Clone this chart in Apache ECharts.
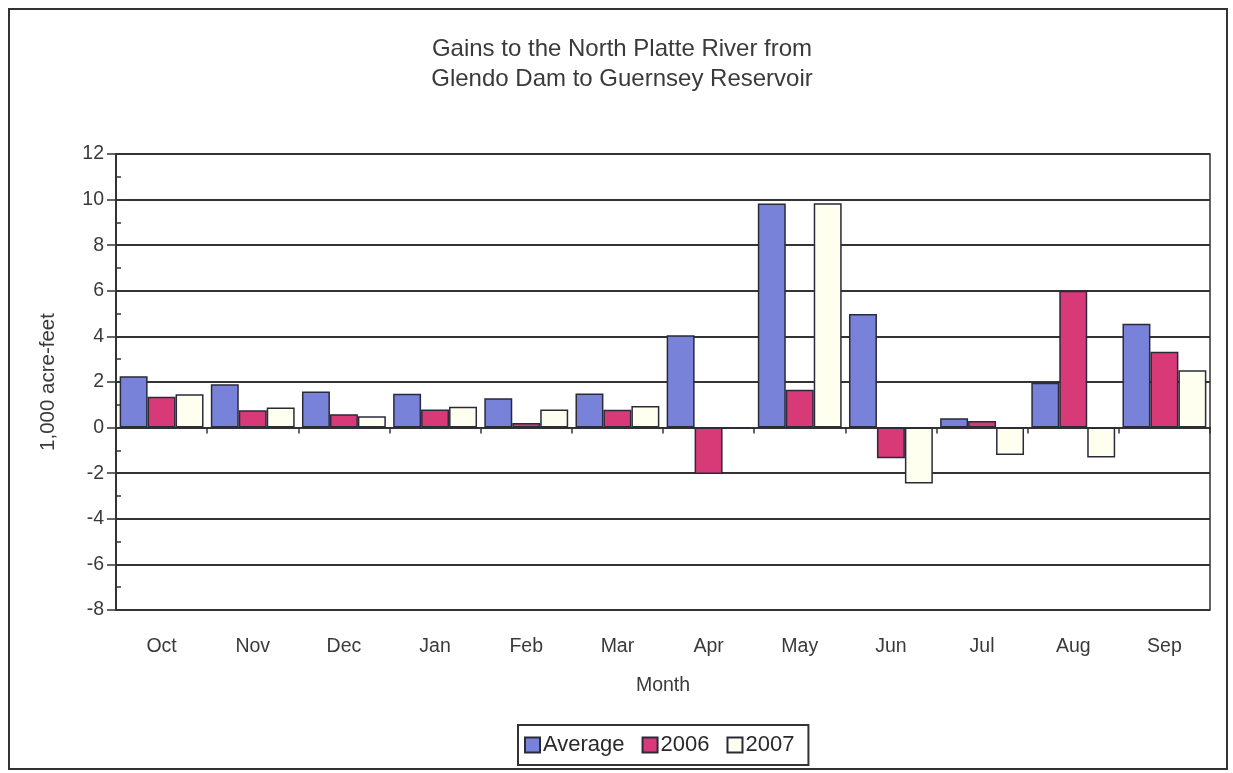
<!DOCTYPE html>
<html><head><meta charset="utf-8">
<script src="https://cdn.jsdelivr.net/npm/echarts@6/dist/echarts.min.js"></script>
<style>
html,body{margin:0;padding:0;background:#fff;}
#frame{position:absolute;left:8px;top:8px;width:1220px;height:762px;border:2px solid #333;box-sizing:border-box;}
#c{position:absolute;left:0;top:0;width:1233px;height:773px;}
</style></head>
<body>
<div id="frame"></div>
<div id="c"></div>
<script>
const months = ['Oct','Nov','Dec','Jan','Feb','Mar','Apr','May','Jun','Jul','Aug','Sep'];
const average = [2.25, 1.9, 1.58, 1.49, 1.29, 1.5, 4.05, 9.83, 4.98, 0.41, 1.97, 4.55];
const y2006 = [1.35, 0.76, 0.59, 0.79, 0.2, 0.78, -2.04, 1.66, -1.34, 0.29, 6.0, 3.33];
const y2007 = [1.46, 0.88, 0.5, 0.91, 0.79, 0.95, -0.05, 9.84, -2.45, -1.2, -1.31, 2.51];
const seriesNames = ['Average','2006','2007'];
const colors = ['#7882d8','#d83a78','#fffff0'];

const chart = echarts.init(document.getElementById('c'), null, {renderer:'canvas'});
const font = 'Liberation Sans, Arial, sans-serif';
const barStyle = c => ({color:c, borderColor:'#2a2a3a', borderWidth:1.5});
chart.setOption({
  animation:false,
  backgroundColor:'transparent',
  title:{
    text:'Gains to the North Platte River from\nGlendo Dam to Guernsey Reservoir',
    left:617, textAlign:'center', top:29,
    textStyle:{fontFamily:font, fontSize:24, fontWeight:'normal', color:'#3a3a3a', lineHeight:30}
  },
  legend:{
    bottom:8, left:518,
    data:seriesNames,
    itemWidth:15, itemHeight:15, itemGap:17,
    icon:'rect',
    padding:[9,14,9,6],
    borderColor:'#333', borderWidth:2,
    textStyle:{fontFamily:font, fontSize:22, color:'#2a2a2a', padding:[0,0,0,-2]}
  },
  grid:{left:116, right:23, top:154, bottom:163, show:true, borderColor:'#333', borderWidth:1.5},
  xAxis:[
    {type:'category', data:months, position:'bottom',
      axisLine:{show:true, onZero:true, lineStyle:{color:'#333', width:2}},
      axisTick:{show:true, length:6, lineStyle:{color:'#333', width:1.5}},
      axisLabel:{show:false}},
    {type:'category', data:months, position:'bottom',
      axisLine:{show:false, onZero:false}, axisTick:{show:false},
      axisLabel:{show:true, margin:27, fontFamily:font, fontSize:19.5, color:'#3a3a3a'},
      name:'Month', nameLocation:'middle', nameGap:66,
      nameTextStyle:{fontFamily:font, fontSize:19.5, color:'#3a3a3a'}}
  ],
  yAxis:[
    {type:'value', min:-8, max:12, interval:2,
      axisLine:{show:true, lineStyle:{color:'#333', width:2}},
      axisTick:{show:true, length:9, lineStyle:{color:'#333', width:1.5}},
      axisLabel:{fontFamily:font, fontSize:19.5, color:'#3a3a3a', margin:12},
      splitLine:{show:true, lineStyle:{color:'#333', width:2}},
      name:'1,000 acre-feet', nameLocation:'middle', nameGap:57,
      nameTextStyle:{fontFamily:font, fontSize:20.5, color:'#3a3a3a'}},
    {type:'value', min:-8, max:12, interval:1, position:'left', offset:0,
      axisLine:{show:false}, axisLabel:{show:false}, splitLine:{show:false},
      axisTick:{show:true, inside:true, length:5, lineStyle:{color:'#333', width:1.5}}}
  ],
  series:[
    {name:seriesNames[0], type:'bar', data:average, barGap:'0%', barCategoryGap:'8%', itemStyle:barStyle(colors[0])},
    {name:seriesNames[1], type:'bar', data:y2006, barGap:'0%', barCategoryGap:'8%', itemStyle:barStyle(colors[1])},
    {name:seriesNames[2], type:'bar', data:y2007, barGap:'0%', barCategoryGap:'8%', itemStyle:barStyle(colors[2])}
  ]
});
</script>
</body></html>
